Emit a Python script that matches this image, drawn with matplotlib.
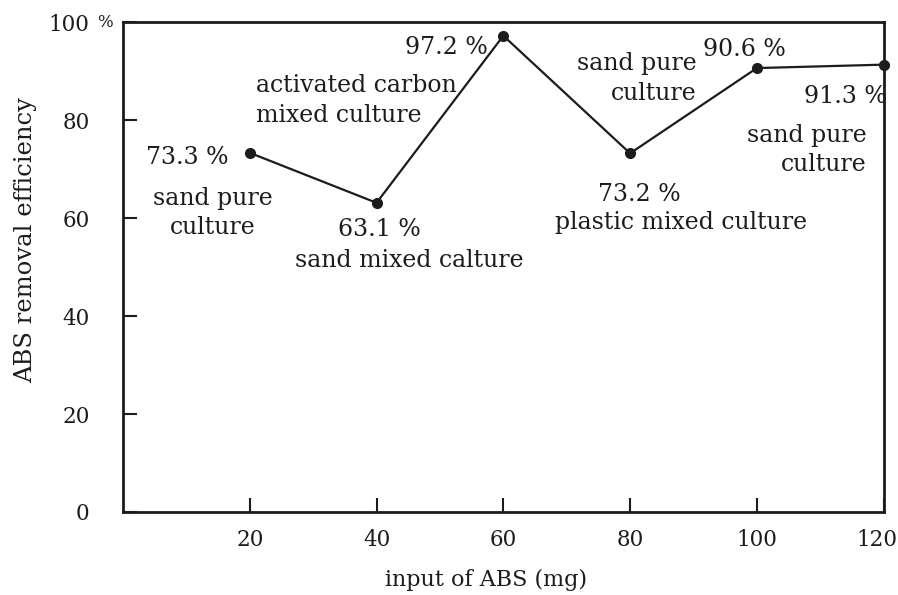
import matplotlib
matplotlib.use("Agg")
import matplotlib.pyplot as plt
from matplotlib.transforms import ScaledTranslation

# data
abs_input = [20, 40, 60, 80, 100, 120]
efficiency = [73.3, 63.1, 97.2, 73.2, 90.6, 91.3]
x_ticks = [20, 40, 60, 80, 100, 120]
y_ticks = [0, 20, 40, 60, 80, 100]

# annotation text and where it sits (data units)
notes = [
    ("73.3 %", 16.6, 72.4, "right"),
    ("sand pure\nculture", 14.1, 61.0, "center"),
    ("activated carbon\nmixed culture", 21.0, 84.0, "left"),
    ("97.2 %", 51.0, 94.8, "center"),
    ("63.1 %", 40.5, 57.6, "center"),
    ("sand mixed calture", 45.2, 51.4, "center"),
    ("sand pure\nculture", 90.5, 88.5, "right"),
    ("90.6 %", 98.1, 94.3, "center"),
    ("91.3 %", 114.0, 84.7, "center"),
    ("sand pure\nculture", 117.3, 73.9, "right"),
    ("73.2 %", 81.4, 64.7, "center"),
    ("plastic mixed culture", 88.1, 59.0, "center"),
]

ink = "#1c1c1c"
plt.rcParams["font.family"] = ["DejaVu Serif"]

fig = plt.figure(figsize=(8.98, 5.95), dpi=100)
ax = fig.add_axes([0.137, 0.1395, 0.847, 0.8235])

ax.plot(abs_input, efficiency, color=ink, lw=1.6, marker="o", markersize=7,
        clip_on=False, zorder=3)

ax.set_xlim(0, 120)
ax.set_ylim(0, 100)
ax.set_xticks(x_ticks)
ax.set_yticks(y_ticks)
ax.set_xticklabels([str(t) for t in x_ticks], fontsize=15.5, color=ink)
ax.set_yticklabels([str(t) for t in y_ticks], fontsize=15.5, color=ink)
ax.tick_params(direction="in", length=10, width=1.5, color=ink)
ax.tick_params(axis="y", pad=24)
ax.tick_params(axis="x", pad=12)
# last x label sits a bit to the left, like the original
last = ax.get_xticklabels()[-1]
last.set_transform(last.get_transform() + ScaledTranslation(-0.07, 0, fig.dpi_scale_trans))
ax.text(-0.024, 1.0, "%", transform=ax.transAxes, fontsize=12, color=ink,
        ha="center", va="center")

for sp in ax.spines.values():
    sp.set_linewidth(2)
    sp.set_color(ink)

for txt, x, y, ha in notes:
    ax.text(x, y, txt, ha=ha, va="center", multialignment=ha, fontsize=17,
            color=ink, linespacing=1.35)

ax.set_ylabel("ABS removal efficiency", fontsize=17.5, color=ink, va="center")
ax.yaxis.set_label_coords(-0.128, 0.555)
ax.set_xlabel("input of ABS (mg)", fontsize=16, color=ink, va="center")
ax.xaxis.set_label_coords(0.477, -0.139)

fig.savefig("out.png", dpi=100, facecolor="white")
